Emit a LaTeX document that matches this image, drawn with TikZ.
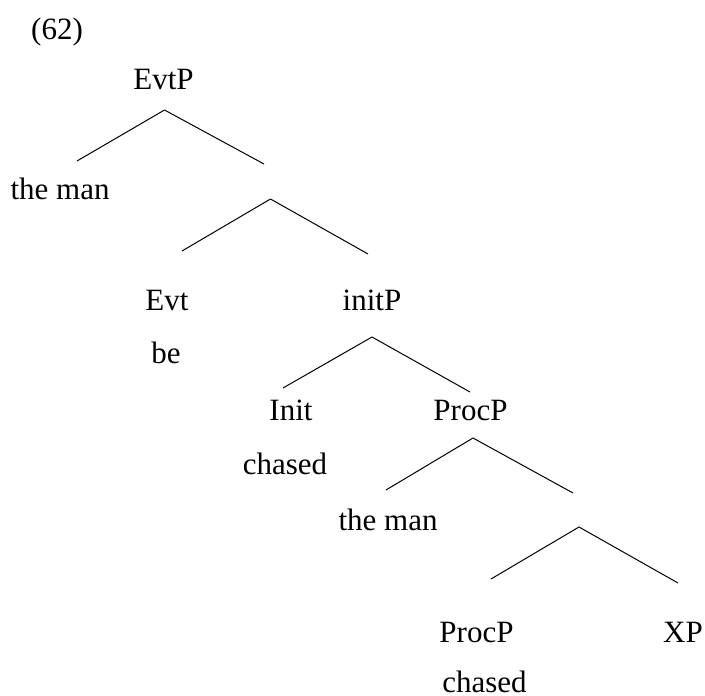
\documentclass[tikz,border=0pt]{standalone}
\usepackage{fontspec}
\setmainfont{Liberation Serif}
\begin{document}
\begin{tikzpicture}[x=1pt,y=-1pt,
  lbl/.style={anchor=base,inner sep=0pt,font=\fontsize{31}{36}\selectfont},
  branch/.style={line width=1pt}]
\useasboundingbox (0,0) rectangle (705,696);

% example number
\node[lbl] (num) at (57,39) {(62)};

% labels
\node[lbl] (evtp)  at (163.5,89)  {EvtP};
\node[lbl] (man1)  at (60,199)    {the man};
\node[lbl] (evt)   at (167,310)   {Evt};
\node[lbl] (be)    at (166,363)   {be};
\node[lbl] (initp) at (372,310)   {initP};
\node[lbl] (init)  at (291,420)   {Init};
\node[lbl] (chs1)  at (285,474)   {chased};
\node[lbl] (procp) at (470.5,420) {ProcP};
\node[lbl] (man2)  at (388,530)   {the man};
\node[lbl] (proc2) at (476.5,642) {ProcP};
\node[lbl] (chs2)  at (484.5,692) {chased};
\node[lbl] (xp)    at (683,642)   {XP};

% branch points
\coordinate (a0) at (164.5,110); \coordinate (a1) at (77,161);  \coordinate (a2) at (264,164);
\coordinate (b0) at (270.5,199); \coordinate (b1) at (182,251); \coordinate (b2) at (368,254);
\coordinate (c0) at (372,337);   \coordinate (c1) at (283,388); \coordinate (c2) at (470,392);
\coordinate (d0) at (473,438);   \coordinate (d1) at (386,490); \coordinate (d2) at (573,493);
\coordinate (e0) at (579,527);   \coordinate (e1) at (491,579); \coordinate (e2) at (678,583);

% branches
\foreach \p in {a,b,c,d,e}{
  \draw[branch] (\p0) -- (\p1);
  \draw[branch] (\p0) -- (\p2);
}
\end{tikzpicture}
\end{document}
